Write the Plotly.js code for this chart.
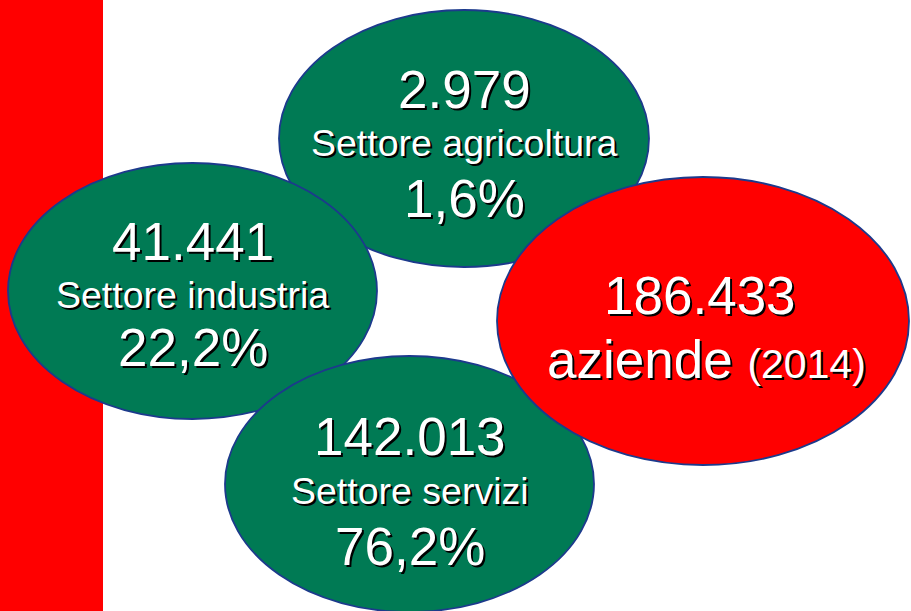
<!DOCTYPE html>
<html><head><meta charset="utf-8">
<script src="https://cdn.plot.ly/plotly-3.0.1.min.js"></script>
<style>html,body{margin:0;padding:0;background:#fff}#chart{width:911px;height:611px}</style>
</head><body><div id="chart"></div>
<script>
// Data
const sectors = ['Settore agricoltura', 'Settore industria', 'Settore servizi'];
const counts = ['2.979', '41.441', '142.013'];
const percents = ['1,6%', '22,2%', '76,2%'];
const totalCount = '186.433';
const totalLabel = 'aziende';
const year = '(2014)';

// Layout geometry (pixels, y down)
const boxes = [
  {x0: 279, x1: 649, y0: 10, y1: 267},   // agricoltura
  {x0: 8, x1: 377, y0: 163, y1: 419},    // industria
  {x0: 225, x1: 594, y0: 356, y1: 612}   // servizi
];
const totalBox = {x0: 497, x1: 909, y0: 177, y1: 465};
const lineY = [[89, 143, 198], [241, 295, 347], [436, 491, 546]];

const green = '#007A54', red = '#FF0000', edge = '#1C3A8C';
const shadow = '2px 2px 0px #000';
const fontFam = 'Liberation Sans, Arial, sans-serif';

const shapes = [{type: 'rect', xref: 'x', yref: 'y', x0: 0, x1: 103, y0: 0, y1: 611,
  fillcolor: red, line: {width: 0}, layer: 'below'}];
boxes.forEach(b => shapes.push({type: 'circle', xref: 'x', yref: 'y', x0: b.x0, x1: b.x1, y0: b.y0, y1: b.y1,
  fillcolor: green, line: {color: edge, width: 1.8}}));
shapes.push({type: 'circle', xref: 'x', yref: 'y', x0: totalBox.x0, x1: totalBox.x1, y0: totalBox.y0, y1: totalBox.y1,
  fillcolor: red, line: {color: edge, width: 1.8}});

const annotations = [];
function ann(x, y, text, size) {
  annotations.push({x: x, y: y, xref: 'x', yref: 'y', text: text, showarrow: false,
    xanchor: 'center', yanchor: 'middle',
    font: {family: fontFam, size: size, color: '#fff', shadow: shadow}});
}
sectors.forEach((s, i) => {
  const cx = (boxes[i].x0 + boxes[i].x1) / 2;
  ann(cx, lineY[i][0], counts[i], 53);
  ann(cx, lineY[i][1], s, 37.5);
  ann(cx, lineY[i][2], percents[i], 53);
});
ann(700, 295, totalCount, 53);
ann(706, 359, totalLabel + ' <span style="font-size:41px">' + year + '</span>', 53);

const trace = {x: [], y: [], type: 'scatter', mode: 'markers', hoverinfo: 'skip', showlegend: false};

Plotly.newPlot('chart', [trace], {
  width: 911, height: 611,
  margin: {l: 0, r: 0, t: 0, b: 0},
  paper_bgcolor: '#fff', plot_bgcolor: '#fff',
  xaxis: {range: [0, 911], visible: false, fixedrange: true},
  yaxis: {range: [611, 0], visible: false, fixedrange: true},
  shapes: shapes, annotations: annotations, showlegend: false
}, {staticPlot: true});
</script></body></html>
